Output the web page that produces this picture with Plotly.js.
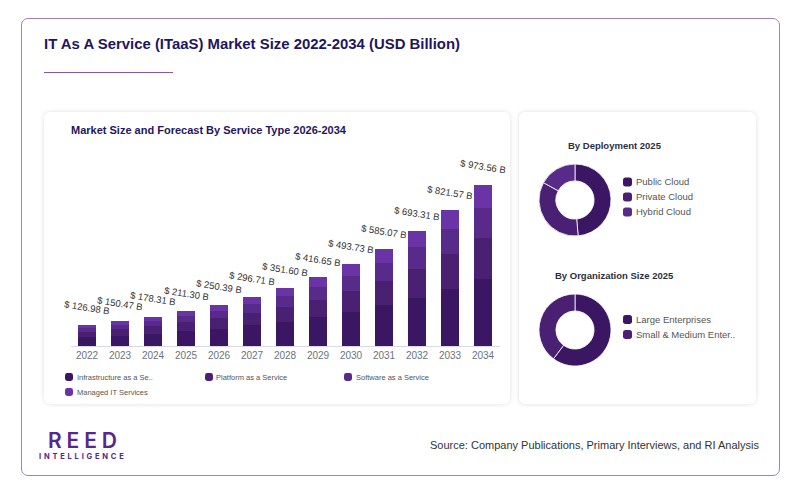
<!DOCTYPE html>
<html><head><meta charset="utf-8">
<script src="https://cdn.plot.ly/plotly-3.0.1.min.js"></script>
<style>
html,body{margin:0;padding:0;background:#fff;width:800px;height:493px;overflow:hidden}
.box{position:absolute;box-sizing:border-box}
#frame{left:20.5px;top:18px;width:759px;height:457.5px;border:1px solid #a47fc4;border-radius:7px}
.card{background:#fff;border-radius:6px;box-shadow:0 0 5px rgba(0,0,0,.13)}
#rule{left:44px;top:71.5px;width:129px;height:1.5px;background:#8a55b0}
#reed{left:48px;top:432px;font:600 21px Inter,sans-serif;letter-spacing:4.9px;color:#59268a;line-height:18px;height:18px}
#intel{left:39px;top:452px;font:700 7.5px Inter,sans-serif;letter-spacing:2.8px;color:#59268a;line-height:9px}
#chart{position:absolute;left:0;top:0;width:800px;height:493px}
</style></head><body>
<div class="box" id="frame"></div>
<div class="box" id="rule"></div>
<div class="box card" style="left:44px;top:112px;width:466px;height:292px"></div>
<div class="box card" style="left:519px;top:112px;width:237px;height:292px"></div>
<div class="box" id="reed">REED</div>
<div class="box" id="intel">INTELLIGENCE</div>
<div id="chart"></div>
<script>
const years=['2022','2023','2024','2025','2026','2027','2028','2029','2030','2031','2032','2033','2034'];
const totals=[126.98,150.47,178.31,211.30,250.39,296.71,351.60,416.65,493.73,585.07,693.31,821.57,973.56];
const infrastructure=[53.3,63.2,74.9,90.1,104.2,124.3,146.4,175.3,206.4,246.1,290.4,343.2,408.0];
const platform=[32.0,37.9,45.9,52.1,64.1,74.2,88.0,105.1,127.6,147.2,175.3,210.2,246.2];
const software=[22.9,27.9,32.1,38.0,46.1,54.2,65.9,76.2,90.7,108.9,131.1,153.1,182.2];
const managed=[18.78,21.47,25.41,31.1,35.99,44.01,51.3,60.05,69.03,82.87,96.51,115.07,137.16];
const serviceNames=['Infrastructure as a Service','Platform as a Service','Software as a Service','Managed IT Services'];
const serviceLabels=['Infrastructure as a Se..','Platform as a Service','Software as a Service','Managed IT Services'];
const deployLabels=['Public Cloud','Private Cloud','Hybrid Cloud'];
const deployValues=[48.6,34.4,17.0];
const orgLabels=['Large Enterprises','Small & Medium Enter..'];
const orgNames=['Large Enterprises','Small & Medium Enterprises'];
const orgValues=[60.2,39.8];
const colors=['#3b1663','#4a2172','#582a8a','#6b34a6'];

const W=800,H=493,FONT='"Liberation Sans", Arial, sans-serif';
const px=x=>x/W, py=y=>1-y/H;
const note=(x,y,text,size,color,o={})=>({xref:'paper',yref:'paper',x:px(x),y:py(y),text,showarrow:false,
  xanchor:o.anchor||'left',yanchor:'middle',borderpad:0,
  font:{family:FONT,size,color,weight:o.weight||400}});
const rsw=(x,y,s,color)=>{const r=s*0.3;
  return {type:'path',xsizemode:'pixel',ysizemode:'pixel',xref:'paper',yref:'paper',xanchor:px(x),yanchor:py(y),
    path:`M ${r} 0 L ${s-r} 0 Q ${s} 0 ${s} ${r} L ${s} ${s-r} Q ${s} ${s} ${s-r} ${s} L ${r} ${s} Q 0 ${s} 0 ${s-r} L 0 ${r} Q 0 0 ${r} 0 Z`,
    fillcolor:color,line:{width:0}};};

const bars=[infrastructure,platform,software,managed].map((v,i)=>({type:'bar',x:years,y:v,name:serviceNames[i],
  marker:{color:colors[i],line:{width:0}},showlegend:false}));
const donut=(labels,values,cy)=>({type:'pie',labels,values,hole:0.53,sort:false,direction:'clockwise',rotation:0,
  marker:{colors:colors.slice(0,values.length),line:{color:'#fff',width:0.8}},textinfo:'none',showlegend:false,
  domain:{x:[px(575-36),px(575+36)],y:[py(cy+36),py(cy-36)]}});

const ann=[
 note(43,44,'IT As A Service (ITaaS) Market Size 2022-2034 (USD Billion)',14.9,'#1f1560',{weight:700}),
 note(69.5,130,'Market Size and Forecast By Service Type 2026-2034',11,'#1f1560',{weight:700}),
 note(615,145.5,'By Deployment 2025',9.5,'#2c2f3f',{weight:700,anchor:'center'}),
 note(614.5,275.5,'By Organization Size 2025',9.5,'#2c2f3f',{weight:700,anchor:'center'}),
 note(760,445,'Source: Company Publications, Primary Interviews, and RI Analysis',11,'#333',{anchor:'right'})
];
years.forEach((yr,i)=>ann.push({xref:'x',yref:'y',x:i,y:totals[i],yshift:18,text:'$ '+totals[i].toFixed(2)+' B',
  showarrow:false,textangle:9,xanchor:'center',yanchor:'middle',borderpad:0,font:{family:FONT,size:9.5,color:'#333'}}));
const shapes=[];
const svcPos=[[65,377],[205,377],[344,377],[65,392]];
serviceLabels.forEach((t,i)=>{shapes.push(rsw(svcPos[i][0],svcPos[i][1]+4,8,colors[i]));
  ann.push(note(svcPos[i][0]+10.5,svcPos[i][1],t,7.5,'#555'));});
deployLabels.forEach((t,i)=>{const y=182+15*i;shapes.push(rsw(623,y+4.5,9,colors[i]));
  ann.push(note(634.5,y-0.5,t,9.5,'#555'));});
orgLabels.forEach((t,i)=>{const y=319.5+15*i;shapes.push(rsw(623,y+4.5,9,colors[i]));
  ann.push(note(634.5,y-0.5,t,9.5,'#555'));});

Plotly.newPlot('chart',[...bars,donut(deployLabels,deployValues,200),donut(orgNames,orgValues,330)],{
  width:W,height:H,margin:{l:0,r:0,t:0,b:0,pad:0},paper_bgcolor:'rgba(0,0,0,0)',plot_bgcolor:'rgba(0,0,0,0)',
  barmode:'stack',bargap:0.455,showlegend:false,
  xaxis:{domain:[px(70.5),px(499.5)],type:'category',categoryorder:'array',categoryarray:years,autorange:false,range:[-0.5,12.5],
    showgrid:false,zeroline:false,showline:true,linecolor:'#d9d9e6',linewidth:1,
    ticks:'',tickmode:'array',tickvals:years,ticktext:years,tickfont:{family:FONT,size:10,color:'#6b7280'},anchor:'y'},
  yaxis:{domain:[py(346),py(150)],autorange:false,range:[0,1185],visible:false,anchor:'x'},
  annotations:ann,shapes
},{displayModeBar:false,staticPlot:true});
</script></body></html>
